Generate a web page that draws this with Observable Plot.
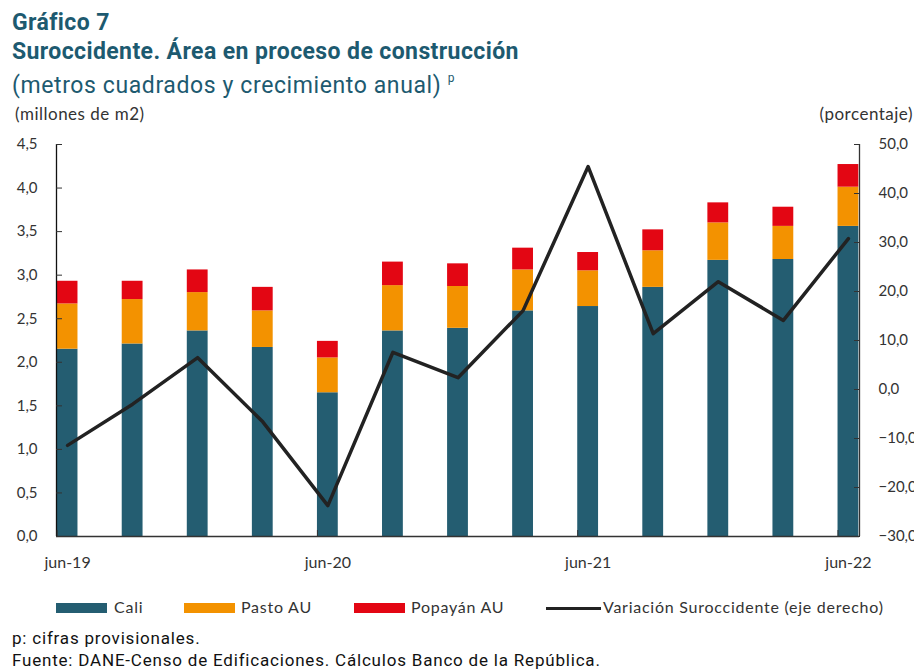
<!DOCTYPE html>
<html>
<head>
<meta charset="utf-8">
<script src="https://cdn.jsdelivr.net/npm/d3@7"></script>
<script src="https://cdn.jsdelivr.net/npm/@observablehq/plot@0.6"></script>
<style>
  body { margin: 0; background: #fff; width: 914px; height: 670px; overflow: hidden; }
  #wrap { position: relative; width: 914px; height: 670px; font-family: Lato, sans-serif; }
  .t { position: absolute; white-space: nowrap; }
  .title { font-family: Roboto, sans-serif; font-weight: 700; font-size: 23px; line-height: 27px; color: #1d5a70; left: 12px; letter-spacing: 0.4px; }
  .sub { font-family: Roboto, sans-serif; font-weight: 400; font-size: 23px; line-height: 27px; color: #1d5a70; left: 12px; letter-spacing: 0.6px; }
  .unit { font-size: 17px; line-height: 20px; color: #333; letter-spacing: 0.5px; }
  .leg { font-size: 16px; line-height: 20px; color: #333; top: 597px; letter-spacing: 0.75px; }
  .sw { position: absolute; top: 603px; height: 10px; width: 51px; }
  .foot { font-family: Roboto, sans-serif; font-size: 17px; line-height: 20px; color: #111; left: 12px; letter-spacing: 0.8px; }
  #chart { position: absolute; left: 0; top: 100px; }
</style>
</head>
<body>
<div id="wrap">
  <div class="t title" style="top:9px">Gráfico 7</div>
  <div class="t title" style="top:38px">Suroccidente. Área en proceso de construcción</div>
  <div class="t sub" style="top:67px">(metros cuadrados y crecimiento anual) <sup style="font-size:12px; position:relative; top:-2px">p</sup></div>
  <div class="t unit" style="left:15px; top:104px">(millones de m2)</div>
  <div class="t unit" style="right:1px; top:104px">(porcentaje)</div>
  <div id="chart"></div>
  <div class="sw" style="left:56px; background:#245d71"></div>
  <div class="t leg" style="left:114px">Cali</div>
  <div class="sw" style="left:184px; background:#f39200"></div>
  <div class="t leg" style="left:241px">Pasto AU</div>
  <div class="sw" style="left:354px; background:#e30613"></div>
  <div class="t leg" style="left:411px">Popayán AU</div>
  <div class="sw" style="left:546px; top:607px; height:3px; width:55px; background:#222"></div>
  <div class="t leg" style="left:603px">Variación Suroccidente (eje derecho)</div>
  <div class="t foot" style="top:628px">p: cifras provisionales.</div>
  <div class="t foot" style="top:650px">Fuente: DANE-Censo de Edificaciones. Cálculos Banco de la República.</div>
</div>
<script>
const periods = ["jun-19","sep-19","dic-19","mar-20","jun-20","sep-20","dic-20","mar-21","jun-21","sep-21","dic-21","mar-22","jun-22"];
const cali    = [2.15,2.21,2.36,2.17,1.65,2.36,2.39,2.59,2.64,2.86,3.17,3.18,3.56];
const pasto   = [0.52,0.51,0.44,0.42,0.40,0.52,0.48,0.47,0.41,0.42,0.43,0.38,0.45];
const popayan = [0.26,0.21,0.26,0.27,0.19,0.27,0.26,0.25,0.21,0.24,0.23,0.22,0.26];
const variacion = [-11.4,-3.0,6.5,-6.6,-23.7,7.6,2.4,16.1,45.5,11.4,22.0,14.1,30.8];
const seriesNames = ["Cali","Pasto AU","Popayán AU"];
const seriesColors = ["#245d71","#f39200","#e30613"];
const leftTicks = [0,0.5,1,1.5,2,2.5,3,3.5,4,4.5];
const rightTicks = [-30,-20,-10,0,10,20,30,40,50];
const xTickLabels = ["jun-19","jun-20","jun-21","jun-22"];

const lMax = 4.5, rMin = -30, rMax = 50;
const toLeft = v => (v - rMin) / (rMax - rMin) * lMax;
const toRight = y => y / lMax * (rMax - rMin) + rMin;
const fmt1 = v => d3.format(".1f")(v).replace(".", ",");
const half = 0.16;

const tidy = [];
periods.forEach((p, i) => {
  [cali, pasto, popayan].forEach((arr, s) => tidy.push({i, period: p, series: seriesNames[s], value: arr[i]}));
});
const lineData = periods.map((p, i) => ({i, v: variacion[i]}));
const xTickIdx = xTickLabels.map(l => periods.indexOf(l));

const chart = Plot.plot({
  width: 914,
  height: 480,
  marginTop: 44,
  marginBottom: 44,
  marginLeft: 56,
  marginRight: 55,
  style: {fontFamily: "Lato, sans-serif", fontSize: "15px", color: "#333", background: "transparent", overflow: "visible"},
  x: {type: "linear", domain: [-0.17, periods.length - 1 + 0.17], axis: null},
  y: {domain: [0, lMax], axis: null},
  color: {domain: seriesNames, range: seriesColors},
  marks: [
    Plot.rectY(tidy, Plot.stackY({x1: d => d.i - half, x2: d => d.i + half, y: "value", fill: "series"})),
    Plot.line(lineData, {x: "i", y: d => toLeft(d.v), stroke: "#222", strokeWidth: 3.5}),
    Plot.ruleY([0], {stroke: "#333", strokeWidth: 1.3}),
    Plot.ruleX([-0.17], {stroke: "#111", strokeWidth: 1.3}),
    Plot.ruleX([periods.length - 1 + 0.17], {stroke: "#333", strokeWidth: 1.3}),
    Plot.axisY(leftTicks, {anchor: "left", label: null, tickSize: 0, tickPadding: 19, tickFormat: fmt1, fill: "#333", fontSize: 15}),
    Plot.axisY(leftTicks, {anchor: "left", label: null, tickSize: -6, tickFormat: () => "", stroke: "#333"}),
    Plot.axisY(rightTicks.map(toLeft), {anchor: "right", label: null, tickSize: 0, tickPadding: 19, tickFormat: y => fmt1(Math.round(toRight(y))), fill: "#333", fontSize: 15, textAnchor: "start"}),
    Plot.axisY(rightTicks.map(toLeft), {anchor: "right", label: null, tickSize: -6, tickFormat: () => "", stroke: "#333"}),
    Plot.axisX(xTickIdx, {anchor: "bottom", label: null, tickSize: 0, tickPadding: 20, tickFormat: i => periods[i], fill: "#333", fontSize: 16}),
    Plot.axisX(xTickIdx.map(i => i - half), {anchor: "bottom", label: null, tickSize: -6, tickFormat: () => "", stroke: "#333"})
  ]
});
document.getElementById("chart").appendChild(chart);
</script>
</body>
</html>
